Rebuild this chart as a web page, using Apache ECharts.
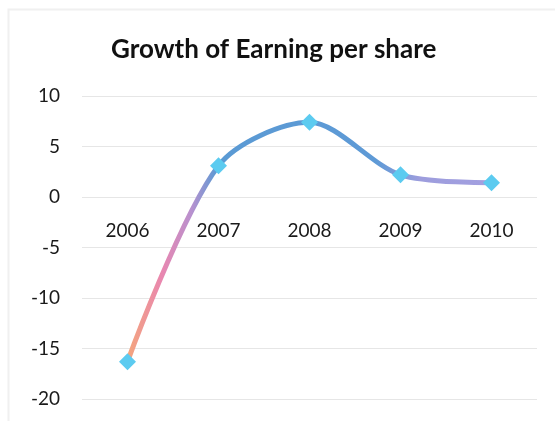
<!DOCTYPE html>
<html>
<head>
<meta charset="utf-8">
<script src="https://cdn.jsdelivr.net/npm/echarts@6/dist/echarts.min.js"></script>
<style>
  html, body { margin: 0; padding: 0; background: #fff; }
  #chart { width: 555px; height: 421px; }
</style>
</head>
<body>
<div id="chart"></div>
<script>
// Earnings-per-share growth by year
const years = ['2006', '2007', '2008', '2009', '2010'];
const epsGrowth = [-16.3, 3.1, 7.4, 2.2, 1.4];
const yTicks = { min: -20, max: 10, step: 5 };

const chart = echarts.init(document.getElementById('chart'), null, { renderer: 'canvas' });

const font = 'Lato, "Open Sans", sans-serif';

// plot area, and the pixel distance from its bottom edge up to the zero line
const plotTop = 96, plotBottom = 22, plotHeight = 421 - plotTop - plotBottom;
const zeroLift = plotHeight * (0 - yTicks.min) / (yTicks.max - yTicks.min);

chart.setOption({
  backgroundColor: '#ffffff',
  animation: false,
  graphic: [{
    // light chart-area frame along the top and left edges
    type: 'rect',
    silent: true,
    shape: { x: 8.5, y: 9.5, width: 560, height: 430 },
    style: { fill: 'none', stroke: '#f0f0f0', lineWidth: 2 }
  }],
  title: {
    text: 'Growth of Earning per share',
    left: 106,
    top: 32,
    textStyle: { fontFamily: font, fontWeight: 'bold', fontSize: 26, color: '#111' }
  },
  grid: { left: 82, right: 18, top: plotTop, bottom: plotBottom, outerBoundsMode: 'none', containLabel: false },
  xAxis: {
    type: 'category',
    data: years,
    boundaryGap: true,
    position: 'bottom',
    offset: -zeroLift,
    axisLine: { show: false, onZero: false },
    axisTick: { show: false },
    axisLabel: { margin: 24, fontFamily: font, fontSize: 19, color: '#1a1a1a' },
    splitLine: { show: false }
  },
  yAxis: {
    type: 'value',
    min: yTicks.min,
    max: yTicks.max,
    interval: yTicks.step,
    axisLine: { show: false },
    axisTick: { show: false },
    axisLabel: { margin: 22, fontFamily: font, fontSize: 19, color: '#1a1a1a' },
    splitLine: { lineStyle: { color: '#e6e6e6', width: 1 } }
  },
  series: [{
    type: 'line',
    data: epsGrowth,
    smooth: 0.3,
    symbol: 'diamond',
    symbolSize: 17,
    itemStyle: { color: '#5ccbf0' },
    lineStyle: {
      width: 5,
      color: new echarts.graphic.LinearGradient(0, 0, 1, 0, [
        { offset: 0.0, color: '#f5a878' },
        { offset: 0.1, color: '#e987b0' },
        { offset: 0.18, color: '#b891cf' },
        { offset: 0.25, color: '#5a9ad4' },
        { offset: 0.68, color: '#5e9ad6' },
        { offset: 0.8, color: '#9d9ddd' },
        { offset: 1.0, color: '#a3a0e0' }
      ])
    },
    z: 3
  }]
});
</script>
</body>
</html>
